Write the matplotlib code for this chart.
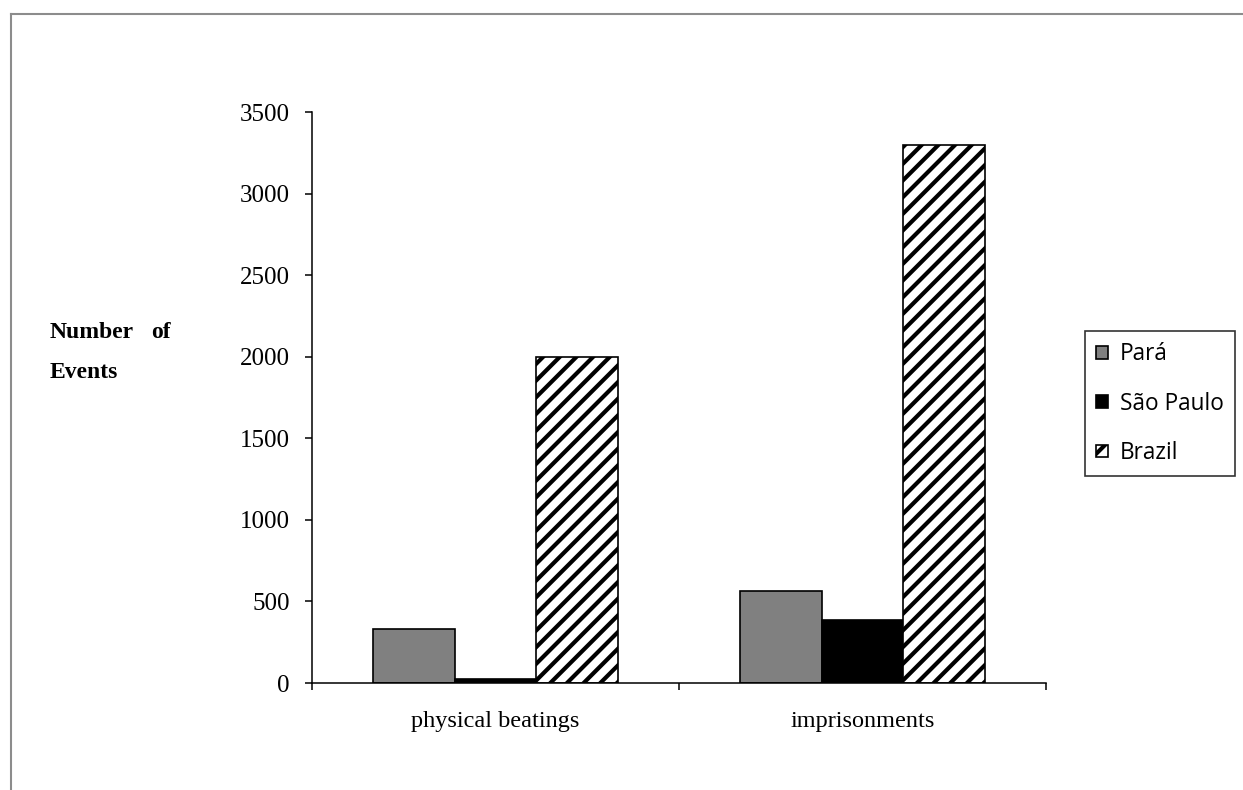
import matplotlib
matplotlib.use("Agg")
import matplotlib.pyplot as plt
from matplotlib.patches import Patch
from matplotlib.lines import Line2D
import numpy as np

categories = ["physical beatings", "imprisonments"]
series_names = ["Pará", "São Paulo", "Brazil"]
para_values = [330, 565]
sao_paulo_values = [25, 385]
brazil_values = [2000, 3300]
y_ticks = [0, 500, 1000, 1500, 2000, 2500, 3000, 3500]

plt.rcParams["hatch.linewidth"] = 3.0
plt.rcParams["hatch.color"] = "black"

W, H = 1243, 790
fig = plt.figure(figsize=(W / 100, H / 100), dpi=100)
fig.patch.set_facecolor("white")

ax = fig.add_axes([312 / W, 1 - 683 / H, (1046 - 312) / W, (683 - 112) / H])

x = np.arange(len(categories))
bw = 1 / 4.5
series = [para_values, sao_paulo_values, brazil_values]
styles = [
    dict(facecolor="#808080", edgecolor="black", linewidth=1.2),
    dict(facecolor="black", edgecolor="black", linewidth=1.2),
    dict(facecolor="white", edgecolor="black", linewidth=1.2, hatch="//"),
]
for i, (vals, st) in enumerate(zip(series, styles)):
    ax.bar(x + (i - 1) * bw, vals, width=bw, **st, zorder=2)

ax.set_xlim(-0.5, 1.5)
ax.set_ylim(0, 3500)
ax.set_yticks(y_ticks)
ax.set_yticklabels([str(t) for t in y_ticks], family="Liberation Serif", fontsize=18)
ax.set_xticks([-0.5, 0.5, 1.5])
ax.set_xticklabels([])
ax.set_xticks(x, minor=True)
ax.set_xticklabels(categories, minor=True, family="Liberation Serif", fontsize=17.5)
ax.tick_params(axis="x", which="major", length=5, width=1.1, direction="out")
ax.tick_params(axis="x", which="minor", length=0, pad=20)
ax.tick_params(axis="y", length=5, width=1.1, direction="out", pad=11)
for s in ["top", "right"]:
    ax.spines[s].set_visible(False)
for s in ["left", "bottom"]:
    ax.spines[s].set_linewidth(1.1)

# y-axis title, drawn as two justified lines
title_font = dict(family="Liberation Serif", fontweight="bold", fontsize=17)
fig.text(50 / W, 1 - 338 / H, "Number", ha="left", va="baseline", **title_font)
fig.text(171 / W, 1 - 338 / H, "of", ha="right", va="baseline", **title_font)
fig.text(50 / W, 1 - 378 / H, "Events", ha="left", va="baseline", **title_font)

handles = [Patch(**st) for st in styles]
leg = fig.legend(handles, series_names, loc="upper left",
                 bbox_to_anchor=(1085 / W, 1 - 331 / H),
                 prop={"family": "Open Sans", "size": 16.3},
                 frameon=True, fancybox=False, edgecolor="black",
                 handlelength=0.5, handleheight=0.5, handletextpad=0.55,
                 labelspacing=1.12, borderpad=0.5, borderaxespad=0)
leg.get_frame().set_linewidth(1.2)

# outer chart-area border (left and top edges)
fig.add_artist(Line2D([11 / W, 11 / W], [0, 1 - 14 / H], transform=fig.transFigure,
                      color="#8c8c8c", linewidth=1.5))
fig.add_artist(Line2D([11 / W, 1], [1 - 14 / H, 1 - 14 / H], transform=fig.transFigure,
                      color="#8c8c8c", linewidth=1.5))

fig.savefig("out.png", dpi=100)
